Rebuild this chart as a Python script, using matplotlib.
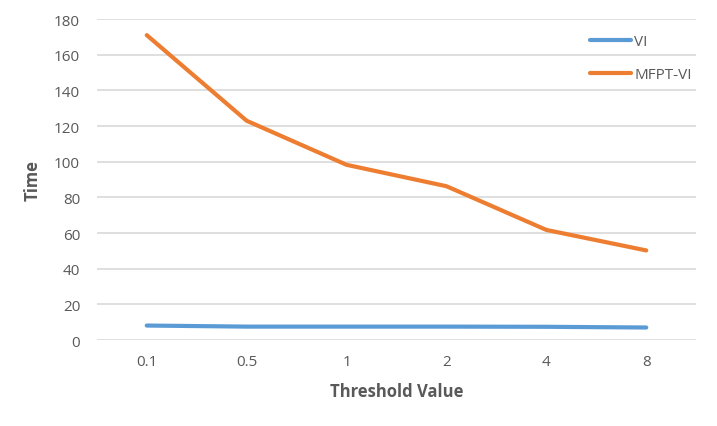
import matplotlib
matplotlib.use("Agg")
import matplotlib.pyplot as plt

# data
thresholds = ["0.1", "0.5", "1", "2", "4", "8"]
vi_times = [8.2, 7.6, 7.6, 7.6, 7.5, 7.1]
mfpt_vi_times = [171, 123, 98.3, 86.3, 61.8, 50.3]

plt.rcParams['font.family'] = ['Open Sans', 'DejaVu Sans']
text_color = '#595959'

fig = plt.figure(figsize=(7.17, 4.27), dpi=100)
ax = fig.add_axes([0.135, 0.201, 0.836, 0.752])

x = range(len(thresholds))
ax.plot(x, vi_times, color='#5B9BD5', linewidth=3, solid_capstyle='round',
        solid_joinstyle='round', label='VI')
ax.plot(x, mfpt_vi_times, color='#ED7D31', linewidth=3, solid_capstyle='round',
        solid_joinstyle='round', label='MFPT-VI')

ax.set_xlim(-0.5, len(thresholds) - 0.5)
ax.set_ylim(0, 180)
ax.set_yticks(range(0, 181, 20))
ax.set_xticks(list(x))
ax.set_xticklabels(thresholds)
ax.grid(axis='y', color='#D9D9D9', linewidth=1.2)
ax.set_axisbelow(True)
for side in ['top', 'right', 'left', 'bottom']:
    ax.spines[side].set_visible(False)
ax.tick_params(axis='both', length=0, labelsize=11, colors=text_color)
ax.tick_params(axis='x', pad=10)
ax.tick_params(axis='y', pad=12)

ax.set_xlabel('Threshold Value', fontsize=12, fontweight='bold', color=text_color, labelpad=9)
ax.set_ylabel('Time', fontsize=12, fontweight='bold', color=text_color, labelpad=9)

leg = ax.legend(loc='upper left', bbox_to_anchor=(0.80, 0.995), frameon=False,
                fontsize=11, handlelength=2.7, handletextpad=0.2, labelspacing=1.15)
for t in leg.get_texts():
    t.set_color(text_color)

fig.savefig('out.png', dpi=100)
